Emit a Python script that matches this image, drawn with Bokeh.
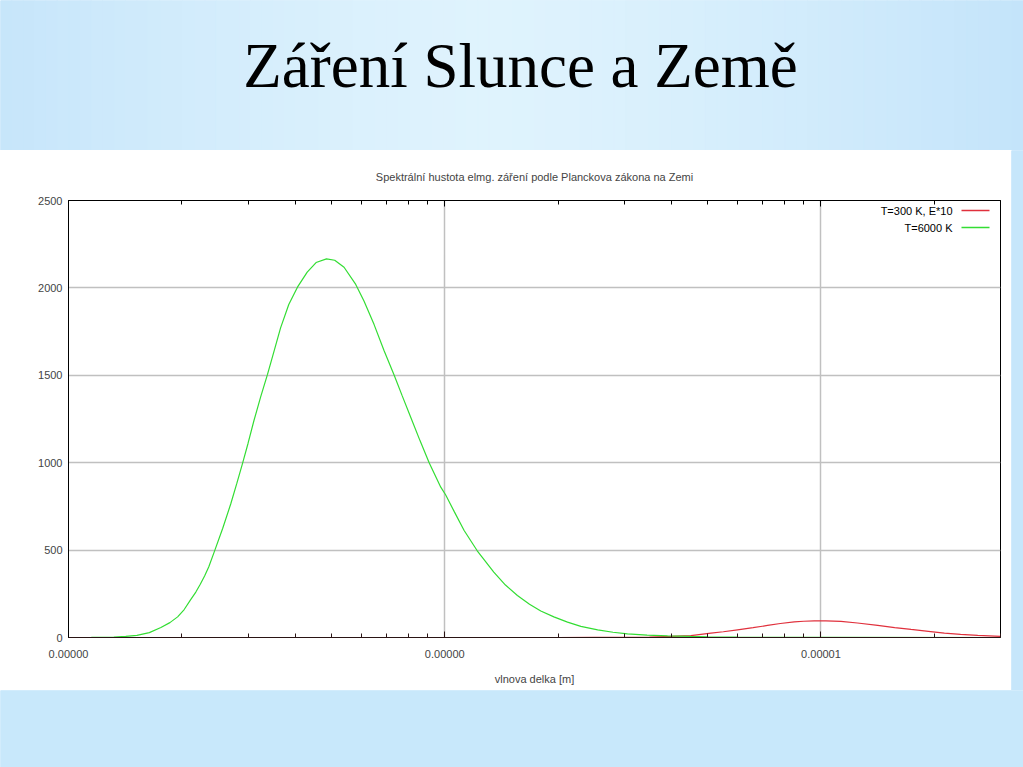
from bokeh.plotting import figure
from bokeh.models import Range1d, FixedTicker, PrintfTickFormatter, LogAxis, Label, Arrow
from bokeh.layouts import column, row
from bokeh.core.properties import value
from bokeh.embed import file_html
from bokeh.resources import INLINE

# ---------------- data ----------------
slide_title = "Záření Slunce a Země"
chart_title = "Spektrální hustota elmg. záření podle Planckova zákona na Zemi"
x_label = "vlnova delka [m]"
series_names = ["T=300 K, E*10", "T=6000 K"]

# T = 6000 K (Sun)
lam_sun = [1.0e-7, 1.15e-7, 1.32e-7, 1.42e-7, 1.52e-7, 1.64e-7, 1.76e-7, 1.86e-7,
           1.95e-7, 2.03e-7, 2.11e-7, 2.18e-7, 2.24e-7, 2.30e-7, 2.36e-7, 2.44e-7,
           2.57e-7, 2.70e-7, 2.80e-7, 2.90e-7, 3.00e-7, 3.11e-7, 3.24e-7, 3.38e-7,
           3.52e-7, 3.66e-7, 3.85e-7, 4.06e-7, 4.31e-7, 4.55e-7, 4.85e-7, 5.10e-7,
           5.40e-7, 5.80e-7, 6.10e-7, 6.49e-7, 6.90e-7, 7.33e-7, 7.70e-7, 8.12e-7,
           8.60e-7, 9.09e-7, 9.76e-7, 1.006e-6, 1.06e-6, 1.126e-6, 1.22e-6, 1.35e-6,
           1.45e-6, 1.56e-6, 1.68e-6, 1.80e-6, 1.95e-6, 2.12e-6, 2.30e-6, 2.55e-6,
           2.80e-6, 3.06e-6, 3.45e-6, 3.91e-6, 4.5e-6, 5.0e-6, 6.0e-6, 7.0e-6,
           1.0e-5, 3.0e-5]
e_sun = [0, 0.3, 3, 6, 12, 28, 57, 85,
         118, 160, 215, 260, 305, 352, 405, 490,
         625, 765, 880, 995, 1110, 1240, 1375, 1505,
         1640, 1770, 1905, 2004, 2090, 2145, 2166, 2158,
         2118, 2020, 1925, 1790, 1640, 1503, 1385, 1260,
         1125, 1000, 860, 815, 720, 612, 496, 374,
         300, 240, 190, 152, 118, 88, 64, 44,
         30, 21, 14, 9, 6, 4, 2, 1,
         0.3, 0]

# T = 300 K (Earth), energy x10
lam_earth = [1.0e-7, 2.0e-6, 2.5e-6, 3.0e-6, 3.5e-6, 4.0e-6, 4.51e-6, 5.10e-6,
             5.5e-6, 6.0e-6, 6.6e-6, 7.21e-6, 7.8e-6, 8.49e-6, 9.0e-6, 9.6e-6,
             1.03e-5, 1.13e-5, 1.25e-5, 1.415e-5, 1.57e-5, 1.735e-5, 1.93e-5,
             2.128e-5, 2.35e-5, 2.61e-5, 3.0e-5]
e_earth = [0, 0, 0.3, 1, 3, 6, 11, 25,
           33, 44, 56, 69, 80, 89, 93, 95,
           95, 92, 83, 69, 57, 46, 35,
           25, 18, 12, 6]

x_major_ticks = [1e-7, 1e-6, 1e-5]
x_minor_ticks = [2e-7, 3e-7, 4e-7, 5e-7, 6e-7, 7e-7, 8e-7, 9e-7,
                 2e-6, 3e-6, 4e-6, 5e-6, 6e-6, 7e-6, 8e-6, 9e-6,
                 2e-5, 3e-5]
y_ticks = [0, 500, 1000, 1500, 2000, 2500]

# ---------------- styles ----------------
W = 1023
PANEL_W = 1011
TOP_H, MID_H, BOT_H = 150, 540, 77
FONT = "Liberation Sans"
RED = "#e0303c"
GREEN = "#33dd33"
GRID = "#c0c0c0"
EDGE_BLUE = "#c6e6fb"
BOTTOM_BLUE = "#c8e8fb"

# ---------------- top band with slide title ----------------
top = figure(width=W, height=TOP_H, x_range=Range1d(0, W), y_range=Range1d(0, TOP_H),
             output_backend="svg", toolbar_location=None, min_border=0, title=None,
             x_axis_location=None, y_axis_location=None, frame_align=False,
             background_fill_color=EDGE_BLUE, border_fill_color=EDGE_BLUE)
top.grid.visible = False
top.outline_line_color = None
n = 90
lefts = [W * i / n for i in range(n)]
rights = [W * (i + 1) / n for i in range(n)]
cols = []
edge = (196, 228, 250)
center = (223, 243, 253)
for i in range(n):
    t = abs((i + 0.5) / n - 0.48) / 0.52
    t = min(1.0, t) ** 1.3
    c = tuple(int(round(center[k] + (edge[k] - center[k]) * t)) for k in range(3))
    cols.append("#%02x%02x%02x" % c)
top.quad(left=lefts, right=rights, bottom=0, top=TOP_H, fill_color=cols, line_color=cols)
top.text(x=[520], y=[85], text=[slide_title], text_font=value("Liberation Serif"),
         text_font_size="63px", text_align="center", text_baseline="alphabetic",
         text_color="black")

# ---------------- main chart ----------------
p = figure(width=PANEL_W, height=MID_H, x_axis_type="log",
           x_range=Range1d(1e-7, 3e-5), y_range=Range1d(0, 2500),
           output_backend="svg", toolbar_location=None, frame_align=False, title=chart_title,
           min_border_left=68, min_border_right=11, min_border_top=50, min_border_bottom=53,
           background_fill_color="white", border_fill_color="white")
p.title.align = "center"
p.title.text_font = FONT
p.title.text_font_size = "11px"
p.title.text_font_style = "normal"
p.title.standoff = 36

xt = FixedTicker(ticks=x_major_ticks, minor_ticks=x_minor_ticks)
xa = p.xaxis[0]
xa.ticker = xt
xa.formatter = PrintfTickFormatter(format="%.5f")
xa.major_tick_in = 6
xa.major_tick_out = 0
xa.minor_tick_in = 4
xa.minor_tick_out = 0
xa.axis_line_color = "#2a1414"
xa.major_tick_line_color = "#2a1414"
xa.minor_tick_line_color = "#2a1414"
xa.major_label_text_font = FONT
xa.major_label_text_font_size = "11px"
xa.major_label_standoff = 12
xa.axis_label = x_label
xa.axis_label_text_font = FONT
xa.axis_label_text_font_size = "11px"
xa.axis_label_text_font_style = "normal"
xa.axis_label_standoff = 12

ya = p.yaxis[0]
ya.ticker = FixedTicker(ticks=y_ticks)
ya.major_tick_in = 0
ya.major_tick_out = 0
ya.minor_tick_in = 0
ya.minor_tick_out = 0
ya.axis_line_color = "black"
ya.major_label_text_font = FONT
ya.major_label_text_font_size = "11px"
ya.major_label_standoff = 6

top_ax = LogAxis(ticker=FixedTicker(ticks=x_major_ticks, minor_ticks=x_minor_ticks),
                 major_tick_in=6, major_tick_out=0, minor_tick_in=4, minor_tick_out=0,
                 major_label_text_color=None, major_label_text_font_size="0px",
                 major_label_standoff=0, axis_line_color="black")
p.add_layout(top_ax, "above")

p.xgrid.grid_line_color = GRID
p.xgrid.grid_line_width = 1.5
p.ygrid.grid_line_color = GRID
p.ygrid.grid_line_width = 1.5
p.outline_line_color = "black"
p.outline_line_width = 1

p.line(lam_earth, e_earth, line_color=RED, line_width=1.2)
p.line(lam_sun, e_sun, line_color=GREEN, line_width=1.2)

# legend (gnuplot style: text then sample line), frame-relative screen units
for i, (name, col) in enumerate(zip(series_names, [RED, GREEN])):
    yy = 427 - 17 * i
    p.add_layout(Label(x=884, y=yy, x_units="screen", y_units="screen", text=name,
                       text_align="right", text_baseline="middle", text_font=FONT,
                       text_font_size="11px", text_color="black"))
    p.add_layout(Arrow(x_start=893, y_start=yy, x_end=921, y_end=yy,
                       start_units="screen", end_units="screen", start=None, end=None,
                       line_color=col, line_width=1.3))

strip = figure(width=W - PANEL_W, height=MID_H, x_range=Range1d(0, 1), y_range=Range1d(0, 1),
               output_backend="svg", toolbar_location=None, min_border=0, title=None,
               x_axis_location=None, y_axis_location=None, frame_align=False,
               background_fill_color=EDGE_BLUE, border_fill_color=EDGE_BLUE)
strip.grid.visible = False
strip.outline_line_color = None
strip.quad(left=[0], right=[1], bottom=[0], top=[1], fill_color=EDGE_BLUE, line_color=EDGE_BLUE)

# ---------------- bottom band ----------------
bot = figure(width=W, height=BOT_H, x_range=Range1d(0, 1), y_range=Range1d(0, 1),
             output_backend="svg", toolbar_location=None, min_border=0, title=None,
             x_axis_location=None, y_axis_location=None, frame_align=False,
             background_fill_color=BOTTOM_BLUE, border_fill_color=BOTTOM_BLUE)
bot.grid.visible = False
bot.outline_line_color = None
bot.quad(left=[0], right=[1], bottom=[0], top=[1], fill_color=BOTTOM_BLUE, line_color=BOTTOM_BLUE)

layout = column(top, row(p, strip, spacing=0), bot, spacing=0)
open("out.html", "w").write(file_html(layout, INLINE))
